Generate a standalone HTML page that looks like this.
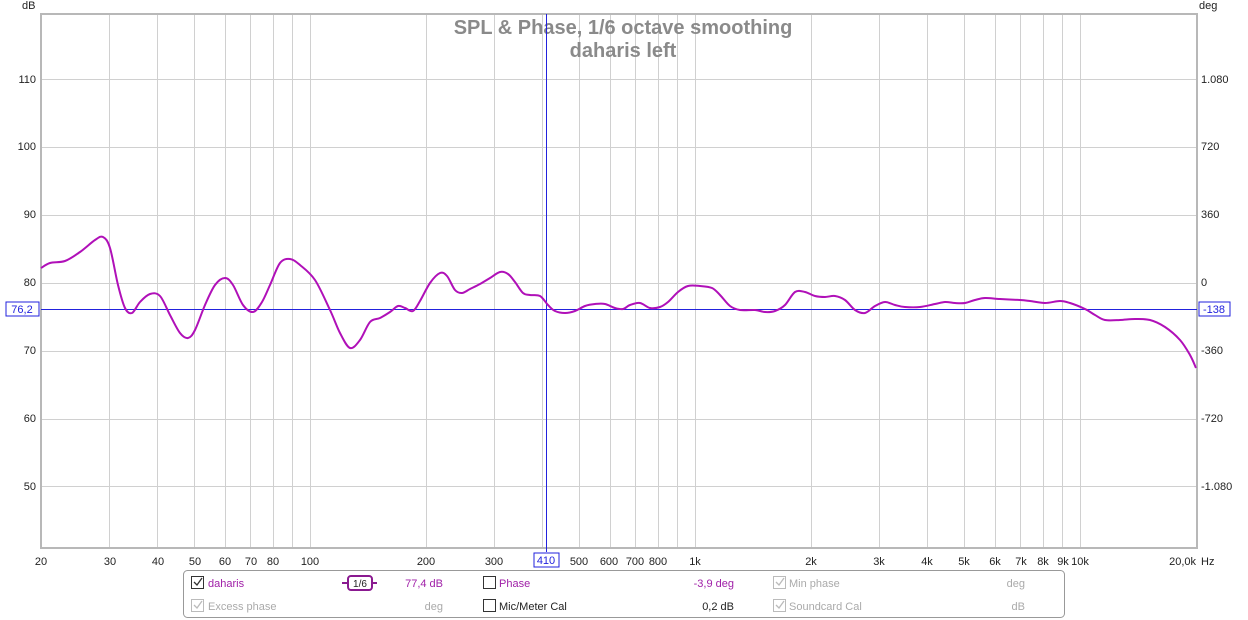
<!DOCTYPE html>
<html><head><meta charset="utf-8"><style>
body{margin:0;background:#fff;}
svg{display:block;font-family:"Liberation Sans",Arial,sans-serif;}
</style></head><body>
<svg width="1248" height="620" viewBox="0 0 1248 620">
<rect width="1248" height="620" fill="#fff"/>
<g id="grid" stroke="#d0d0d0" stroke-width="1"></g>
<rect x="41" y="14" width="1156" height="534" fill="none" stroke="#b8b8b8" stroke-width="2"/>
<g font-size="11" fill="#222">
<text x="22" y="9">dB</text><text x="1199" y="9">deg</text>
<g text-anchor="end">
<text x="36" y="83">110</text><text x="36" y="150">100</text><text x="36" y="218">90</text><text x="36" y="286">80</text><text x="36" y="354">70</text><text x="36" y="422">60</text><text x="36" y="490">50</text>
</g>
<text x="1201" y="83">1.080</text><text x="1201" y="150">720</text><text x="1201" y="218">360</text><text x="1201" y="286">0</text><text x="1201" y="354">-360</text><text x="1201" y="422">-720</text><text x="1201" y="490">-1.080</text>
<g text-anchor="middle">
<text x="41" y="565">20</text><text x="110" y="565">30</text><text x="158" y="565">40</text><text x="195" y="565">50</text><text x="225" y="565">60</text><text x="251" y="565">70</text><text x="273" y="565">80</text><text x="310" y="565">100</text>
<text x="426" y="565">200</text><text x="494" y="565">300</text><text x="579" y="565">500</text><text x="609" y="565">600</text><text x="635" y="565">700</text><text x="658" y="565">800</text><text x="695" y="565">1k</text>
<text x="811" y="565">2k</text><text x="879" y="565">3k</text><text x="927" y="565">4k</text><text x="964" y="565">5k</text><text x="995" y="565">6k</text><text x="1021" y="565">7k</text><text x="1043" y="565">8k</text><text x="1063" y="565">9k</text><text x="1080" y="565">10k</text>
</g>
<text x="1196" y="565" text-anchor="end">20,0k</text>
<text x="1201" y="565">Hz</text>
</g>
<g font-size="20" font-weight="bold" fill="#8a8a8a" text-anchor="middle">
<text x="623" y="34">SPL &amp; Phase, 1/6 octave smoothing</text>
<text x="623" y="57">daharis left</text>
</g>
<line x1="546.5" y1="14" x2="546.5" y2="552" stroke="#2222dd" stroke-width="1"/>
<line x1="41" y1="309.5" x2="1197" y2="309.5" stroke="#2222dd" stroke-width="1"/>
<rect x="6" y="302" width="33" height="14" fill="#fff" stroke="#2222dd"/><text x="22" y="313" font-size="11" fill="#2222dd" text-anchor="middle">76,2</text>
<rect x="1199" y="302" width="31" height="14" fill="#fff" stroke="#2222dd"/><text x="1214" y="313" font-size="11" fill="#2222dd" text-anchor="middle">-138</text>
<rect x="534" y="553" width="25" height="14" fill="#fff" stroke="#2222dd"/><text x="546" y="564" font-size="11" fill="#2222dd" text-anchor="middle">410</text>
<path id="curve" fill="none" stroke="#b010b8" stroke-width="2" stroke-linejoin="round"/>
<rect x="183.5" y="570.5" width="881" height="47" rx="4" fill="#fff" stroke="#999"/>
<g font-size="11">
<rect x="191.5" y="576.5" width="12" height="12" fill="#fff" stroke="#333"/><path d="M194,582 l3,3 l5,-7" fill="none" stroke="#333" stroke-width="1.3"/>
<text x="208" y="587" fill="#a020a8">daharis</text>
<line x1="342" y1="583" x2="377" y2="583" stroke="#8a1a90" stroke-width="2"/>
<rect x="348" y="576" width="24" height="14" rx="3" fill="#fff" stroke="#8a1a90" stroke-width="2"/>
<text x="360" y="587" text-anchor="middle" fill="#222" font-size="10">1/6</text>
<text x="443" y="587" text-anchor="end" fill="#a020a8">77,4 dB</text>
<rect x="483.5" y="576.5" width="12" height="12" fill="#fff" stroke="#333"/>
<text x="499" y="587" fill="#a020a8">Phase</text>
<text x="734" y="587" text-anchor="end" fill="#a020a8">-3,9 deg</text>
<rect x="773.5" y="576.5" width="12" height="12" fill="#fff" stroke="#bbb"/><path d="M776,582 l3,3 l5,-7" fill="none" stroke="#bbb" stroke-width="1.3"/>
<text x="789" y="587" fill="#aaa">Min phase</text>
<text x="1025" y="587" text-anchor="end" fill="#aaa">deg</text>
<rect x="191.5" y="599.5" width="12" height="12" fill="#fff" stroke="#bbb"/><path d="M194,605 l3,3 l5,-7" fill="none" stroke="#bbb" stroke-width="1.3"/>
<text x="208" y="610" fill="#aaa">Excess phase</text>
<text x="443" y="610" text-anchor="end" fill="#aaa">deg</text>
<rect x="483.5" y="599.5" width="12" height="12" fill="#fff" stroke="#333"/>
<text x="499" y="610" fill="#222">Mic/Meter Cal</text>
<text x="734" y="610" text-anchor="end" fill="#222">0,2 dB</text>
<rect x="773.5" y="599.5" width="12" height="12" fill="#fff" stroke="#bbb"/><path d="M776,605 l3,3 l5,-7" fill="none" stroke="#bbb" stroke-width="1.3"/>
<text x="789" y="610" fill="#aaa">Soundcard Cal</text>
<text x="1025" y="610" text-anchor="end" fill="#aaa">dB</text>
</g>
</svg>
<script>
(function(){
var g=document.getElementById('grid'),ns='http://www.w3.org/2000/svg';
function X(f){return 41+385*Math.log10(f/20);}
var fs=[30,40,50,60,70,80,90,100,200,300,400,500,600,700,800,900,1000,2000,3000,4000,5000,6000,7000,8000,9000,10000];
fs.forEach(function(f){var l=document.createElementNS(ns,'line');var x=Math.round(X(f))+0.5;l.setAttribute('x1',x);l.setAttribute('x2',x);l.setAttribute('y1',14);l.setAttribute('y2',548);g.appendChild(l);});
[110,100,90,80,70,60,50].forEach(function(d){var y=Math.round(79+(110-d)*6.79)+0.5;var l=document.createElementNS(ns,'line');l.setAttribute('x1',41);l.setAttribute('x2',1197);l.setAttribute('y1',y);l.setAttribute('y2',y);g.appendChild(l);});
var p=[[41,268],[50,263],[65,261],[80,252],[95,240],[103,237],[110,248],[118,285],[125,308],[132,313],[140,302],[150,294],[160,296],[170,315],[180,333],[188,338],[195,330],[205,305],[215,285],[225,278],[233,285],[243,305],[253,312],[262,302],[270,285],[280,263],[290,259],[300,265],[315,280],[330,310],[340,333],[350,348],[360,340],[370,322],[380,318],[390,312],[398,306],[405,308],[413,311],[420,301],[430,283],[440,273],[447,276],[455,290],[462,293],[470,289],[480,284],[490,278],[500,272],[508,274],[515,282],[523,293],[530,295],[540,296],[548,305],[555,311],[565,313],[575,311],[585,306],[595,304],[605,304],[615,308],[623,309],[630,305],[640,303],[650,308],[660,307],[668,302],[678,292],[688,286],[700,286],[712,288],[720,295],[730,306],[740,310],[755,310],[765,312],[775,311],[785,305],[795,292],[805,292],[815,296],[825,297],[835,296],[845,300],[855,310],[865,313],[875,306],[885,302],[895,305],[905,307],[920,307],[935,304],[945,302],[955,303],[965,303],[975,300],[985,298],[1000,299],[1020,300],[1030,301],[1045,303],[1060,301],[1070,303],[1085,309],[1095,315],[1105,320],[1120,320],[1135,319],[1150,320],[1165,327],[1180,340],[1190,355],[1196,368]];
var d='M'+p[0][0]+','+p[0][1];
for(var i=0;i<p.length-1;i++){var p0=p[Math.max(i-1,0)],p1=p[i],p2=p[i+1],p3=p[Math.min(i+2,p.length-1)];
var c1x=p1[0]+(p2[0]-p0[0])/6,c1y=p1[1]+(p2[1]-p0[1])/6,c2x=p2[0]-(p3[0]-p1[0])/6,c2y=p2[1]-(p3[1]-p1[1])/6;
d+=' C'+c1x.toFixed(1)+','+c1y.toFixed(1)+' '+c2x.toFixed(1)+','+c2y.toFixed(1)+' '+p2[0]+','+p2[1];}
document.getElementById('curve').setAttribute('d',d);
})();
</script>
</body></html>
